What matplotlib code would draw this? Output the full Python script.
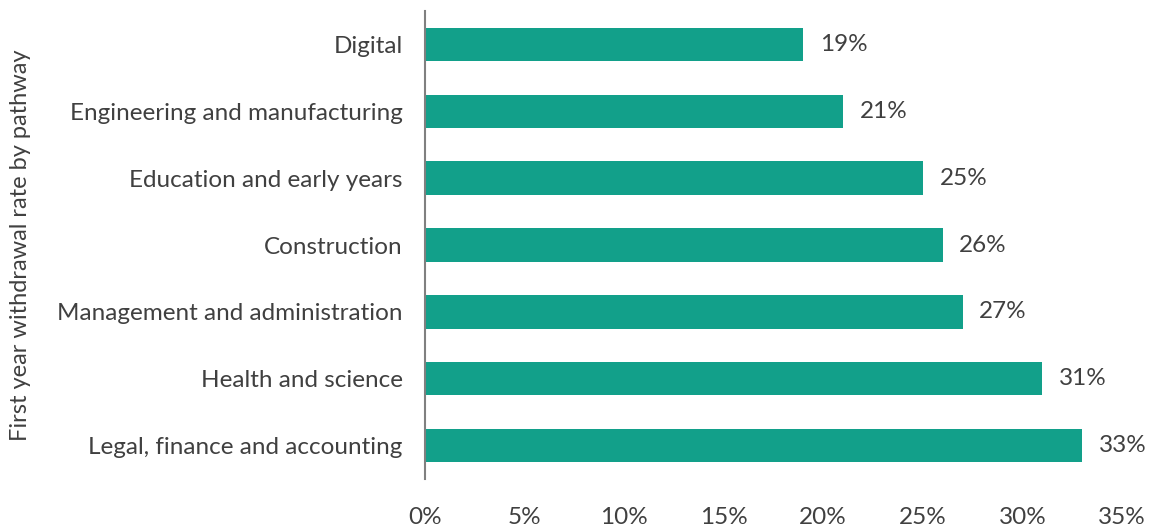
import matplotlib.pyplot as plt
from matplotlib.ticker import FuncFormatter

# Withdrawal rates by pathway (share of first-year starters)
pathways = [
    "Digital",
    "Engineering and manufacturing",
    "Education and early years",
    "Construction",
    "Management and administration",
    "Health and science",
    "Legal, finance and accounting",
]
rates = [0.19, 0.21, 0.25, 0.26, 0.27, 0.31, 0.33]

bar_color = "#12a08a"
text_color = "#404040"

plt.rcParams["font.family"] = ["Lato", "DejaVu Sans"]

fig = plt.figure(figsize=(11.53, 5.26), dpi=100)
ax = fig.add_axes([0.3686, 0.0894, 0.6044, 0.8896])

y = list(range(len(pathways)))
bars = ax.barh(y, rates, height=0.5, color=bar_color)

ax.set_ylim(len(pathways) - 0.5, -0.5)
ax.set_xlim(0, 0.35)
ax.set_yticks(y)
ax.set_yticklabels(pathways)
ax.set_xticks([i * 0.05 for i in range(8)])
ax.xaxis.set_major_formatter(FuncFormatter(lambda v, _: f"{v * 100:.0f}%"))

ax.tick_params(axis="both", length=0, labelsize=17.5, colors=text_color)
ax.tick_params(axis="y", pad=16)
ax.tick_params(axis="x", pad=20)

for side in ["top", "right", "bottom"]:
    ax.spines[side].set_visible(False)
ax.spines["left"].set_color("#808080")
ax.spines["left"].set_linewidth(1.5)

# Axis title sits at the far left edge of the figure
fig.text(0.0175, 0.534, "First year withdrawal rate by pathway", rotation=90,
         ha="center", va="center", fontsize=17, color=text_color)

# Value labels to the right of each bar
for bar, rate in zip(bars, rates):
    ax.annotate(f"{rate * 100:.0f}%",
                (bar.get_width(), bar.get_y() + bar.get_height() / 2),
                xytext=(12, 0), textcoords="offset points",
                ha="left", va="center", fontsize=17.5, color=text_color)

fig.savefig("out.png", dpi=100)
